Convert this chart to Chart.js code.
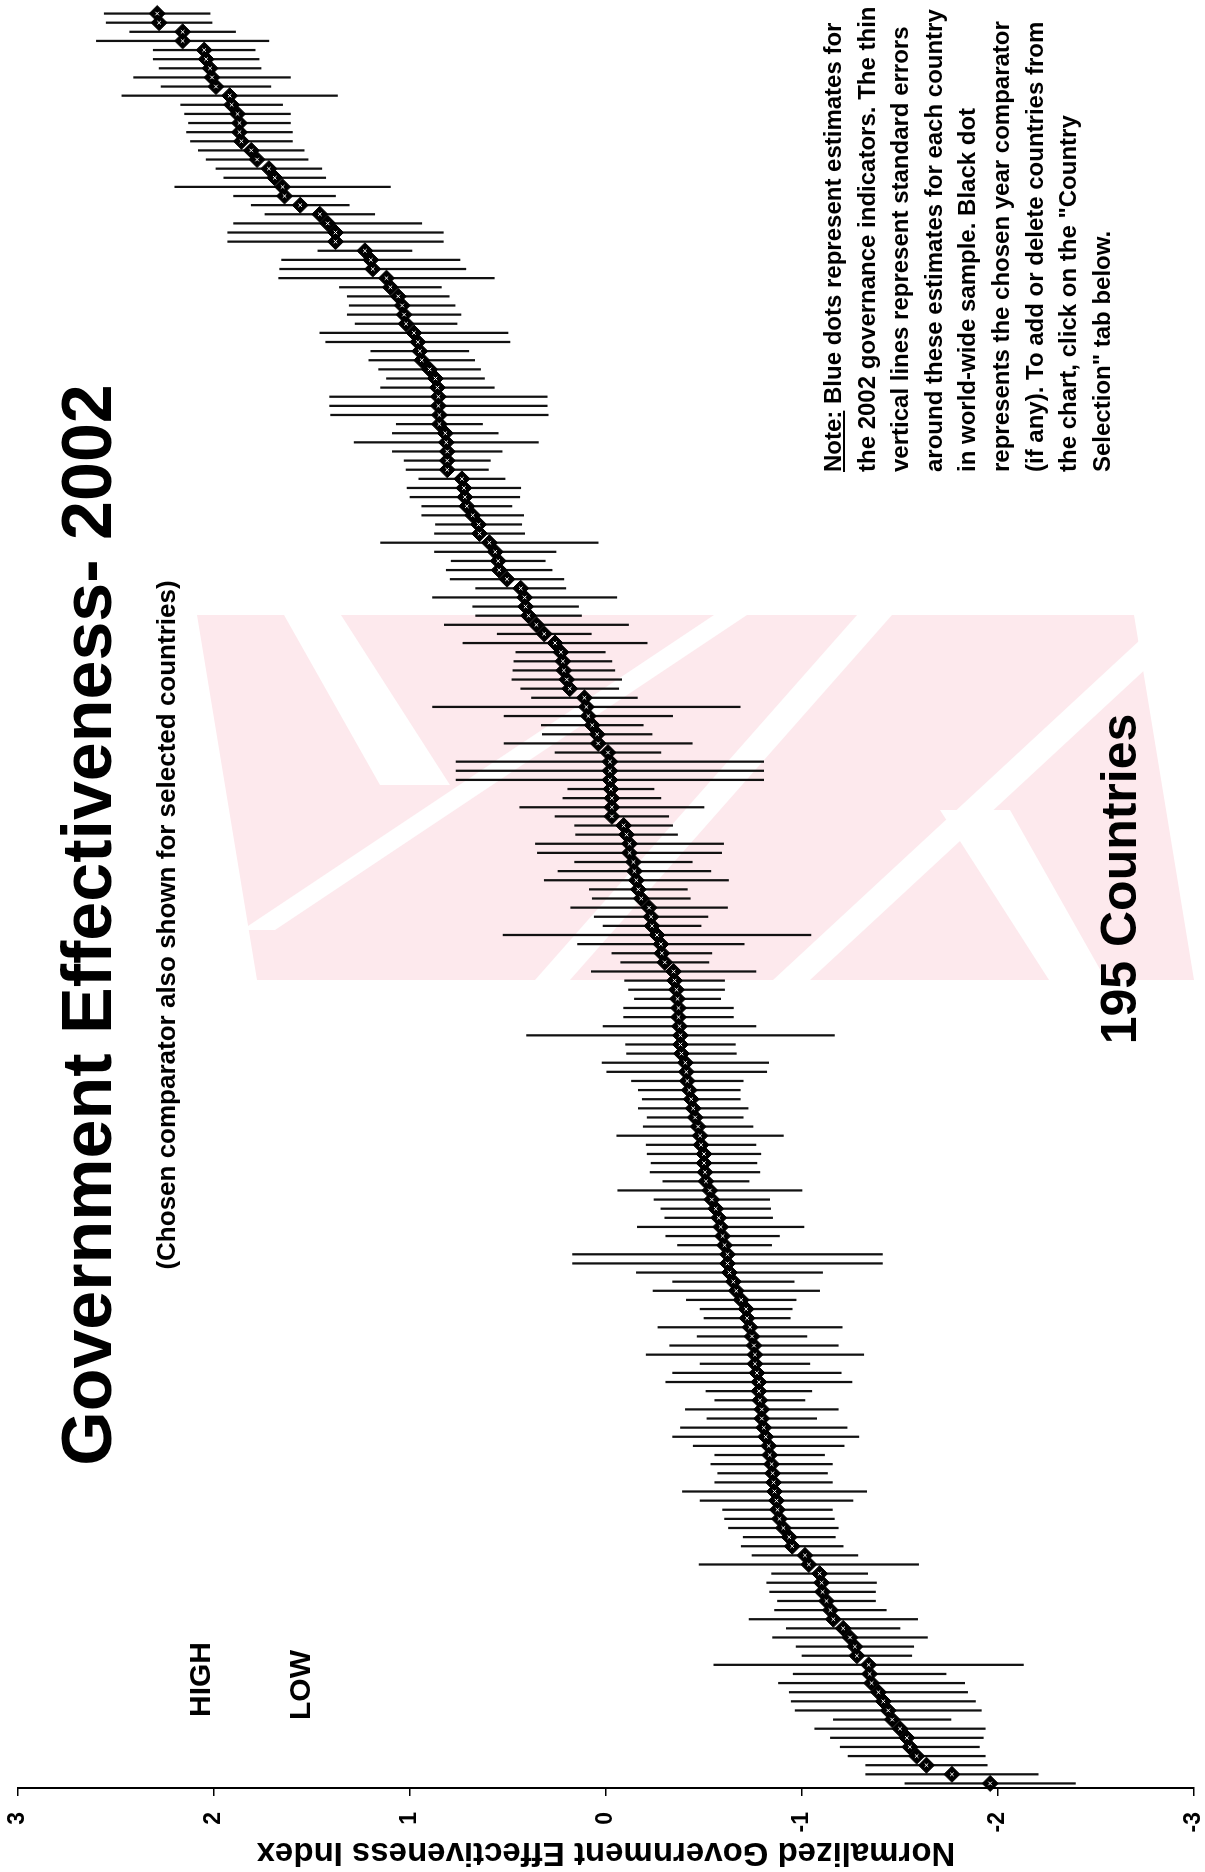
<!DOCTYPE html>
<html>
<head>
<meta charset="utf-8">
<script src="https://cdn.jsdelivr.net/npm/chart.js@4.4.0/dist/chart.umd.min.js"></script>
<style>
html, body { margin: 0; padding: 0; background: #fff; overflow: hidden; }
#page {
	position: absolute; left: 0; top: 0;
	width: 1872px; height: 1205px;
	transform-origin: 0 0;
	transform: translateY(1872px) rotate(-90deg);
	font-family: "Liberation Sans", Arial, sans-serif;
	color: #000;
}
#page canvas { position: absolute; left: 0; top: 0; }
.txt { position: absolute; font-weight: bold; white-space: nowrap; }
.note { position: absolute; font-weight: bold; white-space: nowrap; font-size: 24px; line-height: 33.6px; }
</style>
</head>
<body>
<div id="page">
	<canvas id="myChart" width="1872" height="1205"></canvas>
	<div class="txt" style="left:947px; top:52px; font-size:70px; line-height:70px; transform:translateX(-50%);">Government Effectiveness- 2002</div>
	<div class="txt" style="left:947px; top:153px; font-size:26px; line-height:26px; transform:translateX(-50%);">(Chosen comparator also shown for selected countries)</div>
	<div class="txt" style="left:155px; top:185px; font-size:30px; line-height:30px;">HIGH</div>
	<div class="txt" style="left:152px; top:285px; font-size:30px; line-height:30px;">LOW</div>
	<div class="txt" style="left:993px; top:1094px; font-size:50px; line-height:50px; transform:translateX(-50%);">195 Countries</div>
	<div class="note" style="left:1400px; top:816px;">
		<u>Note:</u> Blue dots represent estimates for<br>
		the 2002 governance indicators. The thin<br>
		vertical lines represent standard errors<br>
		around these estimates for each country<br>
		in world-wide sample. Black dot<br>
		represents the chosen year comparator<br>
		(if any). To add or delete countries from<br>
		the chart, click on the "Country<br>
		Selection" tab below.
	</div>
</div>
<script>
// country estimates, sorted from lowest to highest (195 countries)
var estimates = [
	-1.96, -1.765, -1.635, -1.585, -1.55, -1.535, -1.50, -1.46, -1.44, -1.415, -1.39, -1.355, -1.345, -1.34, -1.28,
	-1.27, -1.245, -1.21, -1.16, -1.145, -1.125, -1.105, -1.10, -1.09, -1.035, -1.015, -0.95, -0.935, -0.905, -0.885,
	-0.875, -0.87, -0.86, -0.855, -0.85, -0.845, -0.835, -0.83, -0.815, -0.805, -0.795, -0.795, -0.785, -0.78, -0.78,
	-0.77, -0.76, -0.76, -0.755, -0.745, -0.735, -0.72, -0.715, -0.69, -0.665, -0.65, -0.63, -0.62, -0.62, -0.605,
	-0.595, -0.585, -0.575, -0.56, -0.54, -0.53, -0.51, -0.505, -0.50, -0.50, -0.485, -0.48, -0.47, -0.455, -0.445,
	-0.435, -0.425, -0.415, -0.41, -0.405, -0.385, -0.38, -0.38, -0.375, -0.37, -0.37, -0.365, -0.36, -0.35, -0.345,
	-0.30, -0.285, -0.28, -0.26, -0.235, -0.23, -0.22, -0.18, -0.165, -0.155, -0.145, -0.14, -0.12, -0.12, -0.105,
	-0.09, -0.03, -0.03, -0.03, -0.025, -0.02, -0.02, -0.02, -0.01, 0.04, 0.045, 0.07, 0.09, 0.10, 0.11,
	0.185, 0.20, 0.215, 0.22, 0.23, 0.26, 0.315, 0.355, 0.395, 0.41, 0.415, 0.435, 0.505, 0.545, 0.55,
	0.565, 0.595, 0.645, 0.65, 0.68, 0.71, 0.72, 0.725, 0.735, 0.81, 0.81, 0.81, 0.815, 0.82, 0.85,
	0.85, 0.855, 0.855, 0.86, 0.87, 0.90, 0.94, 0.95, 0.96, 0.98, 1.02, 1.03, 1.04, 1.06, 1.10,
	1.12, 1.19, 1.20, 1.23, 1.38, 1.38, 1.42, 1.46, 1.56, 1.64, 1.65, 1.69, 1.72, 1.78, 1.81,
	1.86, 1.87, 1.87, 1.88, 1.91, 1.92, 1.99, 2.01, 2.02, 2.04, 2.05, 2.16, 2.16, 2.28, 2.29
];
// standard error of each estimate (half length of the thin line)
var stdErrors = [
	0.435, 0.44, 0.31, 0.35, 0.355, 0.39, 0.435, 0.30, 0.475, 0.47, 0.455, 0.475, 0.39, 0.79, 0.28,
	0.30, 0.395, 0.29, 0.43, 0.285, 0.25, 0.27, 0.28, 0.245, 0.56, 0.27, 0.26, 0.235, 0.28, 0.28,
	0.28, 0.39, 0.47, 0.30, 0.28, 0.31, 0.28, 0.385, 0.475, 0.425, 0.28, 0.39, 0.23, 0.27, 0.475,
	0.43, 0.28, 0.555, 0.43, 0.28, 0.47, 0.22, 0.235, 0.28, 0.425, 0.31, 0.475, 0.79, 0.79, 0.24,
	0.29, 0.425, 0.275, 0.28, 0.295, 0.47, 0.22, 0.28, 0.27, 0.29, 0.28, 0.425, 0.28, 0.245, 0.28,
	0.25, 0.26, 0.285, 0.41, 0.425, 0.28, 0.28, 0.785, 0.39, 0.28, 0.28, 0.22, 0.245, 0.255, 0.42,
	0.225, 0.255, 0.425, 0.785, 0.25, 0.29, 0.40, 0.25, 0.25, 0.47, 0.39, 0.30, 0.47, 0.48, 0.26,
	0.25, 0.29, 0.47, 0.25, 0.22, 0.785, 0.785, 0.785, 0.27, 0.48, 0.28, 0.26, 0.43, 0.785, 0.27,
	0.25, 0.28, 0.26, 0.25, 0.23, 0.47, 0.24, 0.47, 0.27, 0.27, 0.47, 0.23, 0.29, 0.27, 0.24,
	0.31, 0.555, 0.23, 0.22, 0.26, 0.23, 0.28, 0.29, 0.22, 0.21, 0.22, 0.28, 0.47, 0.27, 0.22,
	0.555, 0.555, 0.555, 0.29, 0.25, 0.26, 0.27, 0.25, 0.47, 0.48, 0.26, 0.29, 0.27, 0.26, 0.26,
	0.55, 0.475, 0.455, 0.24, 0.55, 0.55, 0.48, 0.28, 0.25, 0.26, 0.55, 0.26, 0.27, 0.26, 0.27,
	0.26, 0.27, 0.26, 0.27, 0.26, 0.55, 0.28, 0.40, 0.26, 0.27, 0.26, 0.44, 0.27, 0.27, 0.27
];
var yTicks = [3, 2, 1, 0, -1, -2, -3];

var ranks = estimates.map(function (v, i) { return String(i + 1); });
var intervals = estimates.map(function (v, i) { return [v - stdErrors[i], v + stdErrors[i]]; });

// faint pink watermark behind the plot, page coordinates before the rotation
var watermark = {
	id: 'watermark',
	beforeDatasetsDraw: function (chart) {
		var c = chart.ctx;
		function fillPoly(poly, colour) {
			c.fillStyle = colour;
			c.beginPath();
			poly.forEach(function (p, i) {
				var x = 1872 - p[1], y = p[0];
				if (i === 0) c.moveTo(x, y); else c.lineTo(x, y);
			});
			c.closePath();
			c.fill();
		}
		c.save();
		fillPoly([[197, 615], [1134, 615], [1194, 980], [257, 980]], '#fde9ed');
		// white gaps between the strokes of the mark
		[
			[[284, 615], [341, 615], [450, 785], [380, 785]],
			[[714, 615], [747, 615], [275, 930], [242, 930]],
			[[857, 615], [892, 615], [570, 980], [535, 980]],
			[[773, 980], [810, 980], [1204, 615], [1167, 615]],
			[[1106, 980], [1049, 980], [940, 810], [1010, 810]]
		].forEach(function (poly) { fillPoly(poly, '#fff'); });
		c.restore();
	}
};

Chart.defaults.font.family = "'Liberation Sans', Arial, sans-serif";
Chart.defaults.color = '#000';

var ctx = document.getElementById('myChart');
var myChart = new Chart(ctx, {
	type: 'bar',
	data: {
		labels: ranks,
		datasets: [{
			label: 'Standard error',
			data: intervals,
			backgroundColor: '#111',
			borderWidth: 0,
			barThickness: 1.6,
			order: 3
		},
		{
			type: 'line',
			label: 'Estimate',
			data: estimates,
			showLine: false,
			pointStyle: 'rectRot',
			pointRadius: 8,
			backgroundColor: '#000',
			borderColor: '#000',
			borderWidth: 1,
			order: 2
		},
		{
			type: 'line',
			label: 'Country code',
			data: estimates,
			showLine: false,
			pointStyle: 'crossRot',
			pointRadius: 2.5,
			borderColor: '#fff',
			borderWidth: 1,
			order: 1
		}
		]
	},
	plugins: [watermark],
	options: {
		responsive: false,
		animation: false,
		events: [],
		layout: {
			padding: { top: 18, bottom: 11, left: 0, right: 0 }
		},
		plugins: {
			legend: { display: false },
			tooltip: { enabled: false }
		},
		scales: {
			x: {
				type: 'category',
				offset: true,
				display: false
			},
			y: {
				min: -3,
				max: 3,
				afterBuildTicks: function (scale) {
					scale.ticks = yTicks.map(function (v) { return { value: v }; });
				},
				afterFit: function (scale) {
					scale.width = 84;
					scale.paddingTop = 0;
					scale.paddingBottom = 0;
				},
				ticks: {
					padding: 16,
					font: { size: 23, weight: 'bold', lineHeight: 1 },
					color: '#000'
				},
				grid: {
					drawOnChartArea: false,
					tickLength: 8,
					color: '#000',
					lineWidth: 1.5
				},
				border: { display: true, color: '#000', width: 2 },
				title: {
					display: true,
					text: 'Normalized Government Effectiveness Index',
					font: { size: 33, weight: 'bold' },
					color: '#000',
					padding: { top: 0, bottom: 0 }
				}
			}
		}
	}
});
</script>
</body>
</html>
